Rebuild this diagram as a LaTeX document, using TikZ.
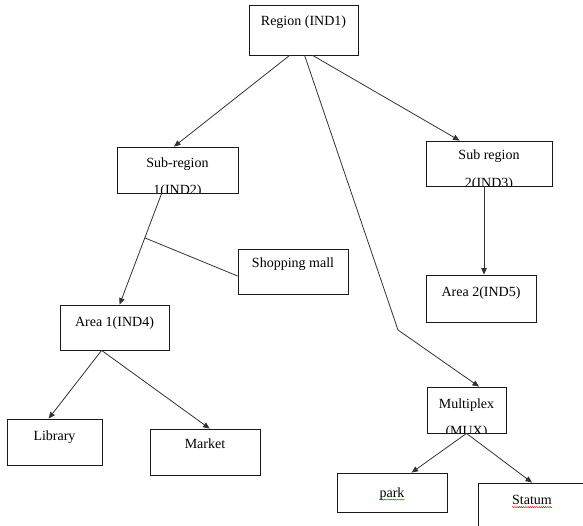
\documentclass[tikz,border=0pt]{standalone}
\usepackage{fontspec}
\setmainfont{Liberation Serif}
\usetikzlibrary{arrows.meta,calc,decorations.pathmorphing}
\begin{document}
\begin{tikzpicture}[x=1pt,y=-1pt,
  box/.style={draw=black!90, rectangle, inner sep=0pt, line width=0.8pt},
  lbl/.style={anchor=base, inner sep=0pt, font=\fontsize{14}{16}\selectfont},
  conn/.style={draw=black!80, line width=0.8pt},
  arr/.style={conn, -{Triangle[length=6.5pt,width=5.5pt]}},
  squig/.style={line width=0.4pt, decorate, decoration={snake, amplitude=0.6pt, segment length=2.2pt}}]
\useasboundingbox (0,0) rectangle (583,526);

% boxes
\node[box, minimum width=109pt, minimum height=50pt] (region) at (303.5,30) {};
\node[lbl] at ([yshift=-21pt]region.north) {Region (IND1)};

\node[box, minimum width=121pt, minimum height=46pt,
  path picture={
    \node[lbl] at ([yshift=-21pt]path picture bounding box.north) {Sub-region};
    \node[lbl] at ([yshift=-47.5pt]path picture bounding box.north) {1(IND2)};
  }] (sub1) at (177.5,170) {};

\node[box, minimum width=126pt, minimum height=45pt,
  path picture={
    \node[lbl] at ([yshift=-19pt]path picture bounding box.north) {Sub region};
    \node[lbl] at ([yshift=-46.5pt]path picture bounding box.north) {2(IND3)};
  }] (sub2) at (489,163.5) {};

\node[box, minimum width=110pt, minimum height=47pt] (area2) at (481,298.5) {};
\node[lbl] at ([yshift=-22pt]area2.north) {Area 2(IND5)};

\node[box, minimum width=110pt, minimum height=45pt] (mall) at (293,271.5) {};
\node[lbl] at ([yshift=-19pt]mall.north) {Shopping mall};

\node[box, minimum width=109pt, minimum height=45pt] (area1) at (114.5,327.5) {};
\node[lbl] at ([yshift=-22pt]area1.north) {Area 1(IND4)};

\node[box, minimum width=95pt, minimum height=46pt] (library) at (54.5,442) {};
\node[lbl] at ([yshift=-22pt]library.north) {Library};

\node[box, minimum width=110pt, minimum height=46pt] (market) at (205,452) {};
\node[lbl] at ([yshift=-20pt]market.north) {Market};

\node[box, minimum width=79pt, minimum height=46pt,
  path picture={
    \node[lbl] at ([yshift=-21pt]path picture bounding box.north) {Multiplex};
    \node[lbl] at ([yshift=-48pt]path picture bounding box.north) {(MUX)};
  }] (mux) at (466.5,410) {};

\node[box, minimum width=110pt, minimum height=39pt] (park) at (392,492.5) {};
\node[lbl] (parkt) at ([yshift=-25pt]park.north) {park};

\node[box, minimum width=108pt, minimum height=57pt] (statum) at (532,511.5) {};
\node[lbl] (statumt) at ([yshift=-22pt]statum.north) {Statum};

% spell-check underlines
\draw[squig, green!55!black] ([yshift=-2pt]parkt.base west) -- ([yshift=-2pt]parkt.base east);
\draw[squig, red!80!black] ([yshift=-2.5pt]statumt.base west) -- ([yshift=-2.5pt]statumt.base east);

% connectors
\draw[arr] ([xshift=41pt]region.south west) -- ([xshift=-3.5pt]sub1.north);
\draw[arr] ([xshift=64pt]region.south west) -- ([xshift=34pt]sub2.north west);
\coordinate (bend) at (398,330);
\draw[arr] ([xshift=56pt]region.south west) -- (bend) -- ([xshift=12.5pt]mux.north);
\draw[arr] ([xshift=-5pt]sub2.south) -- ([xshift=3pt]area2.north);
\draw[arr] ([xshift=45pt]sub1.south west) -- coordinate[pos=0.4] (junc) ([xshift=60pt]area1.north west);
\draw[conn] (junc) -- ([yshift=-4.5pt]mall.west);
\draw[arr] ([xshift=42pt]area1.south west) -- ([xshift=42pt]library.north west);
\draw[arr] ([xshift=42pt]area1.south west) -- ([xshift=60pt]market.north west);
\draw[arr] (mux.south) -- ([xshift=75pt]park.north west);
\draw[arr] (mux.south) -- (statum.north);
\end{tikzpicture}
\end{document}
